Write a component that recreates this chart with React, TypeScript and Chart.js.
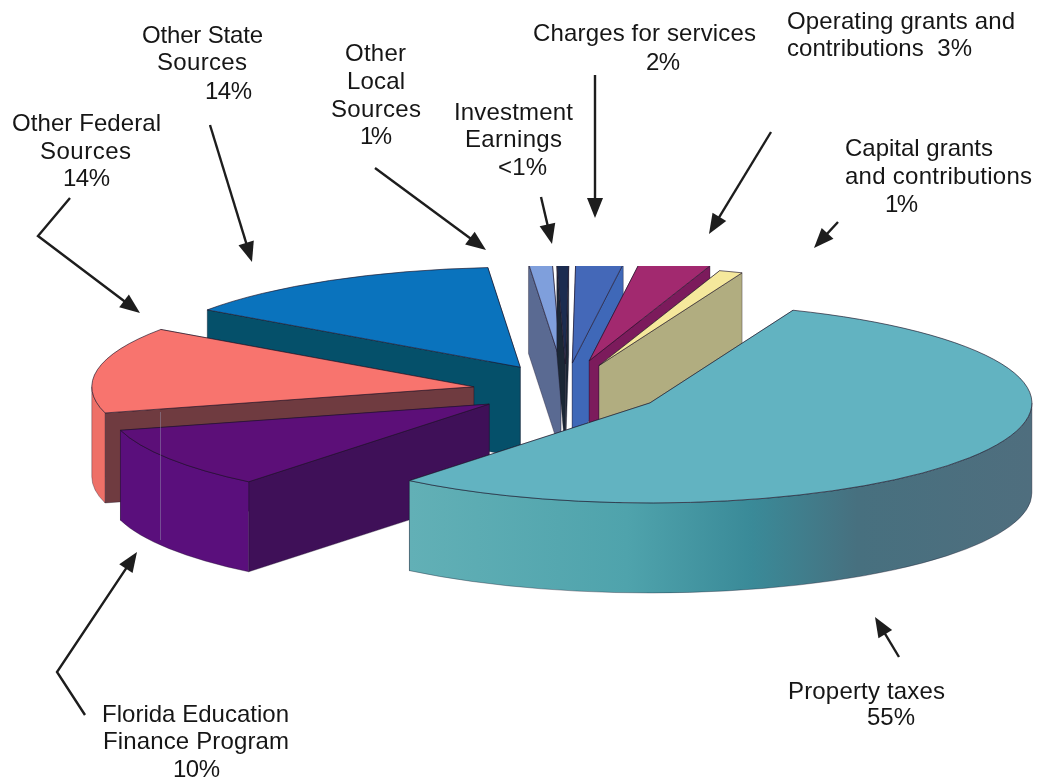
import React, { useEffect, useRef } from "react";
import { Chart, registerables } from "chart.js";

Chart.register(...registerables);

const categories = ["Property taxes", "Florida Education Finance Program", "Other Federal Sources", "Other State Sources", "Other Local Sources", "Investment Earnings", "Charges for services", "Operating grants and contributions", "Capital grants and contributions"];
const shares = [55, 10, 14, 14, 1, 0.5, 2, 3, 1];
const explode = [0.255, 0.24, 0.245, 0.24, 0.25, 0.24, 0.23, 0.27, 0.25];
const drop = [2, 3, 3, 0, 0, 0, -2, -1, 1];
const drawOrder = [4, 5, 6, 7, 8, 3, 2, 1, 0];
const topColors = ["#62b3c1", "#5c0f78", "#f8746e", "#0a73bd", "#7f9fdc", "#1c2c50", "#4468b8", "#a2296f", "#f5e89c"];
const wallColors = ["#4f9aa6", "#3f1058", "#6f3b40", "#05506a", "#5a6a92", "#1b2735", "#3f68b8", "#7c1b5c", "#b1ad80"];
const sideColors = ["#4a7a88", "#5a0f7c", "#ee7068", "#05506a", "#5a6a92", "#1b2735", "#3f68b8", "#7c1b5c", "#b1ad80"];
const propertySideStops: [number, string][] = [[0, "#62b0b6"], [0.35, "#4fa3ac"], [0.55, "#3a8a98"], [0.72, "#47707f"], [1, "#4f6e7e"]];

const labelTexts = [
  "Other State", "Sources", "14%",
  "Other", "Local", "Sources", "1%",
  "Investment", "Earnings", "<1%",
  "Charges for services", "2%",
  "Operating grants and", "contributions  3%",
  "Capital grants", "and contributions", "1%",
  "Other Federal", "Sources", "14%",
  "Property taxes", "55%",
  "Florida Education", "Finance Program", "10%",
];
const labelBoxes: [number, number, number][] = [
  [142, 36, 121], [157, 63, 90], [205, 92, 47],
  [345, 54, 61], [347, 82, 58], [331, 110, 90], [360, 137, 32],
  [454, 113, 119], [465, 140, 97], [498, 168, 49],
  [533, 34, 223], [646, 63, 34],
  [787, 22, 228], [787, 49, 185],
  [845, 149, 148], [845, 177, 187], [885, 205, 33],
  [12, 124, 149], [40, 152, 91], [63, 179, 47],
  [788, 692, 157], [867, 718, 48],
  [102, 715, 187], [103, 742, 186], [173, 770, 47],
];
const arrows: [number, number][][] = [
  [[70, 198], [38, 236], [140, 313]],
  [[210, 125], [252, 262]],
  [[375, 168], [486, 250]],
  [[541, 197], [552, 244]],
  [[595, 75], [595, 218]],
  [[771, 132], [709, 234]],
  [[838, 222], [814, 248]],
  [[899, 657], [875, 617]],
  [[85, 715], [57, 672], [137, 552]],
];

const VIEW = { cx: 566, cy: 388, rx: 382, ry: 100, depth: 90, clipTop: 266 };
const outline = "rgba(30,20,40,0.65)";

const pie3d = {
  id: "pie3d",
  beforeDatasetsDraw(chart: any) {
    const ctx: CanvasRenderingContext2D = chart.ctx;
    const meta = chart.getDatasetMeta(0);
    const { cx, cy, rx, ry, depth, clipTop } = VIEW;
    ctx.save();
    ctx.beginPath();
    ctx.rect(0, clipTop, chart.width, chart.height - clipTop);
    ctx.clip();
    ctx.lineWidth = 1;
    ctx.lineJoin = "round";
    for (const i of drawOrder) {
      const el = meta.data[i];
      const a0 = el.startAngle, a1 = el.endAngle;
      const mid = (a0 + a1) / 2;
      const ax = cx + explode[i] * rx * Math.cos(mid);
      const ay = cy + explode[i] * ry * Math.sin(mid) + drop[i];
      const wall = (a: number) => {
        const x = ax + rx * Math.cos(a), y = ay + ry * Math.sin(a);
        ctx.beginPath();
        ctx.moveTo(ax, ay);
        ctx.lineTo(x, y);
        ctx.lineTo(x, y + depth);
        ctx.lineTo(ax, ay + depth);
        ctx.closePath();
        ctx.fillStyle = wallColors[i];
        ctx.fill();
        ctx.strokeStyle = "rgba(30,20,40,0.35)";
        ctx.stroke();
      };
      // back-facing wall first, front-facing wall after it
      const order = Math.sin(a0) > Math.sin(a1) ? [a1, a0] : [a0, a1];
      wall(order[0]);
      wall(order[1]);
      // outer rim: only the part that faces the viewer
      let lo = a0, hi = a1;
      const wrap = Math.floor(lo / (2 * Math.PI)) * 2 * Math.PI;
      lo -= wrap; hi -= wrap;
      if (lo > Math.PI) { lo -= 2 * Math.PI; hi -= 2 * Math.PI; }
      const from = Math.max(lo, 0), to = Math.min(hi, Math.PI);
      if (to > from) {
        ctx.beginPath();
        ctx.ellipse(ax, ay, rx, ry, 0, from, to);
        ctx.lineTo(ax + rx * Math.cos(to), ay + ry * Math.sin(to) + depth);
        ctx.ellipse(ax, ay + depth, rx, ry, 0, to, from, true);
        ctx.closePath();
        if (i === 0) {
          const g = ctx.createLinearGradient(ax + rx * Math.cos(to), 0, ax + rx, 0);
          propertySideStops.forEach(([p, c]) => g.addColorStop(p, c));
          ctx.fillStyle = g;
        } else {
          ctx.fillStyle = sideColors[i];
        }
        ctx.fill();
        ctx.strokeStyle = "rgba(30,20,40,0.35)";
        ctx.stroke();
      }
      // top face
      ctx.beginPath();
      ctx.moveTo(ax, ay);
      ctx.ellipse(ax, ay, rx, ry, 0, a0, a1);
      ctx.closePath();
      ctx.fillStyle = el.options.backgroundColor;
      ctx.fill();
      ctx.strokeStyle = outline;
      ctx.stroke();
    }
    ctx.restore();
    return false;
  },
  afterDraw(chart: any) {
    const ctx: CanvasRenderingContext2D = chart.ctx;
    ctx.save();
    // faint scan streak across the left slices
    ctx.strokeStyle = "rgba(150,150,175,0.45)";
    ctx.lineWidth = 1;
    ctx.beginPath();
    ctx.moveTo(160.5, 412);
    ctx.lineTo(160.5, 540);
    ctx.stroke();

    ctx.strokeStyle = "#1d1d1d";
    ctx.fillStyle = "#1d1d1d";
    ctx.lineWidth = 2.4;
    for (const pts of arrows) {
      const n = pts.length;
      const [ex, ey] = pts[n - 1];
      const [px, py] = pts[n - 2];
      const ang = Math.atan2(ey - py, ex - px);
      ctx.beginPath();
      ctx.moveTo(pts[0][0], pts[0][1]);
      for (let i = 1; i < n - 1; i++) ctx.lineTo(pts[i][0], pts[i][1]);
      ctx.lineTo(ex - 10 * Math.cos(ang), ey - 10 * Math.sin(ang));
      ctx.stroke();
      ctx.beginPath();
      ctx.moveTo(ex, ey);
      ctx.lineTo(ex - 20 * Math.cos(ang) - 8 * Math.sin(ang), ey - 20 * Math.sin(ang) + 8 * Math.cos(ang));
      ctx.lineTo(ex - 20 * Math.cos(ang) + 8 * Math.sin(ang), ey - 20 * Math.sin(ang) - 8 * Math.cos(ang));
      ctx.closePath();
      ctx.fill();
    }
    ctx.font = '24px "Liberation Sans", Arial, sans-serif';
    ctx.textBaseline = "middle";
    ctx.textAlign = "left";
    ctx.fillStyle = "#161616";
    labelTexts.forEach((t, i) => {
      const [x, y, w] = labelBoxes[i];
      (ctx as any).letterSpacing = "0px";
      const natural = ctx.measureText(t).width;
      (ctx as any).letterSpacing = `${(w - natural) / Math.max(t.length - 1, 1)}px`;
      ctx.fillText(t, x, y);
    });
    ctx.restore();
  },
};

export default function App() {
  const ref = useRef<HTMLCanvasElement>(null);
  useEffect(() => {
    document.body.style.margin = "0";
    const chart = new Chart(ref.current!, {
      type: "pie",
      data: {
        labels: categories,
        datasets: [{ data: shares, backgroundColor: topColors, borderWidth: 0 }],
      },
      options: {
        responsive: false,
        animation: false,
        rotation: 22,
        events: [],
        plugins: { legend: { display: false }, tooltip: { enabled: false } },
      },
      plugins: [pie3d],
    } as any);
    return () => chart.destroy();
  }, []);
  return <canvas ref={ref} width={1038} height={784} style={{ display: "block", background: "#fff", filter: "blur(0.4px)" }} />;
}
